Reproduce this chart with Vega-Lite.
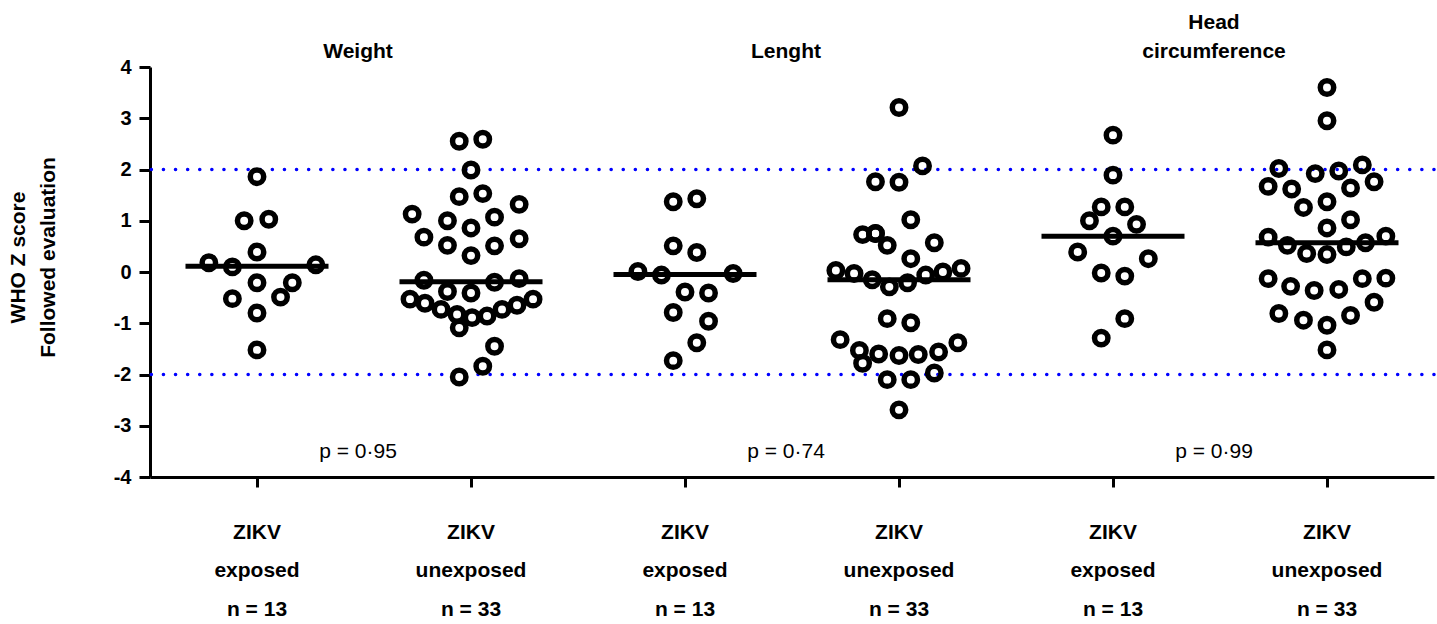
{
  "$schema": "https://vega.github.io/schema/vega-lite/v6.json",
  "width": 1284,
  "height": 410,
  "autosize": {"type": "none"},
  "padding": {"left": 150, "top": 67, "right": 3, "bottom": 147},
  "background": "white",
  "config": {
    "view": {"stroke": null},
    "font": "Liberation Sans",
    "axisY": {
      "domainColor": "black", "domainWidth": 3, "tickColor": "black", "tickWidth": 3, "tickSize": 11,
      "labelFont": "Liberation Sans", "labelFontSize": 20, "labelFontWeight": "bold", "labelColor": "black", "labelPadding": 8,
      "grid": false,
      "titleFont": "Liberation Sans", "titleFontSize": 21, "titleFontWeight": "bold", "titleColor": "black",
      "titleLineHeight": 30, "titleX": -143, "titleY": 190, "titleAngle": -90, "titleBaseline": "top", "titleAlign": "center"
    },
    "axisX": {
      "domainColor": "black", "domainWidth": 3, "tickColor": "black", "tickWidth": 3, "tickSize": 10,
      "labelFont": "Liberation Sans", "labelFontSize": 21, "labelFontWeight": "bold", "labelColor": "black",
      "labelPadding": 34, "labelLineHeight": 38.5, "labelAngle": 0, "grid": false
    }
  },
  "datasets": {
    "refs": [{"ref": 2}, {"ref": -2}],
    "medians": [
      {"slot": "Weight|ZIKV|exposed|n = 13", "median": 0.11},
      {"slot": "Weight|ZIKV|unexposed|n = 33", "median": -0.19},
      {"slot": "Lenght|ZIKV|exposed|n = 13", "median": -0.05},
      {"slot": "Lenght|ZIKV|unexposed|n = 33", "median": -0.15},
      {"slot": "Head circumference|ZIKV|exposed|n = 13", "median": 0.70},
      {"slot": "Head circumference|ZIKV|unexposed|n = 33", "median": 0.57}
    ],
    "panels": [
      {"measure": "Weight", "line1": "", "line2": "Weight", "p": "p = 0·95"},
      {"measure": "Lenght", "line1": "", "line2": "Lenght", "p": "p = 0·74"},
      {"measure": "Head circumference", "line1": "Head", "line2": "circumference", "p": "p = 0·99"}
    ],
    "points": [
      {"slot": "Weight|ZIKV|exposed|n = 13", "z": 1.86, "jitter": 0},
      {"slot": "Weight|ZIKV|exposed|n = 13", "z": 1.00, "jitter": -0.12},
      {"slot": "Weight|ZIKV|exposed|n = 13", "z": 1.03, "jitter": 0.11},
      {"slot": "Weight|ZIKV|exposed|n = 13", "z": 0.39, "jitter": 0},
      {"slot": "Weight|ZIKV|exposed|n = 13", "z": 0.18, "jitter": -0.45},
      {"slot": "Weight|ZIKV|exposed|n = 13", "z": 0.10, "jitter": -0.23},
      {"slot": "Weight|ZIKV|exposed|n = 13", "z": 0.14, "jitter": 0.55},
      {"slot": "Weight|ZIKV|exposed|n = 13", "z": -0.21, "jitter": 0},
      {"slot": "Weight|ZIKV|exposed|n = 13", "z": -0.21, "jitter": 0.33},
      {"slot": "Weight|ZIKV|exposed|n = 13", "z": -0.52, "jitter": -0.23},
      {"slot": "Weight|ZIKV|exposed|n = 13", "z": -0.49, "jitter": 0.22},
      {"slot": "Weight|ZIKV|exposed|n = 13", "z": -0.80, "jitter": 0},
      {"slot": "Weight|ZIKV|exposed|n = 13", "z": -1.52, "jitter": 0},

      {"slot": "Weight|ZIKV|unexposed|n = 33", "z": 2.55, "jitter": -0.11},
      {"slot": "Weight|ZIKV|unexposed|n = 33", "z": 2.59, "jitter": 0.11},
      {"slot": "Weight|ZIKV|unexposed|n = 33", "z": 1.99, "jitter": 0},
      {"slot": "Weight|ZIKV|unexposed|n = 33", "z": 1.47, "jitter": -0.11},
      {"slot": "Weight|ZIKV|unexposed|n = 33", "z": 1.53, "jitter": 0.11},
      {"slot": "Weight|ZIKV|unexposed|n = 33", "z": 1.32, "jitter": 0.45},
      {"slot": "Weight|ZIKV|unexposed|n = 33", "z": 1.13, "jitter": -0.55},
      {"slot": "Weight|ZIKV|unexposed|n = 33", "z": 1.00, "jitter": -0.22},
      {"slot": "Weight|ZIKV|unexposed|n = 33", "z": 1.07, "jitter": 0.22},
      {"slot": "Weight|ZIKV|unexposed|n = 33", "z": 0.86, "jitter": 0},
      {"slot": "Weight|ZIKV|unexposed|n = 33", "z": 0.68, "jitter": -0.44},
      {"slot": "Weight|ZIKV|unexposed|n = 33", "z": 0.65, "jitter": 0.45},
      {"slot": "Weight|ZIKV|unexposed|n = 33", "z": 0.52, "jitter": -0.22},
      {"slot": "Weight|ZIKV|unexposed|n = 33", "z": 0.51, "jitter": 0.22},
      {"slot": "Weight|ZIKV|unexposed|n = 33", "z": 0.32, "jitter": 0},
      {"slot": "Weight|ZIKV|unexposed|n = 33", "z": -0.16, "jitter": -0.44},
      {"slot": "Weight|ZIKV|unexposed|n = 33", "z": -0.20, "jitter": 0.22},
      {"slot": "Weight|ZIKV|unexposed|n = 33", "z": -0.13, "jitter": 0.45},
      {"slot": "Weight|ZIKV|unexposed|n = 33", "z": -0.38, "jitter": -0.22},
      {"slot": "Weight|ZIKV|unexposed|n = 33", "z": -0.41, "jitter": 0},
      {"slot": "Weight|ZIKV|unexposed|n = 33", "z": -0.53, "jitter": -0.57},
      {"slot": "Weight|ZIKV|unexposed|n = 33", "z": -0.53, "jitter": 0.58},
      {"slot": "Weight|ZIKV|unexposed|n = 33", "z": -0.61, "jitter": -0.43},
      {"slot": "Weight|ZIKV|unexposed|n = 33", "z": -0.65, "jitter": 0.43},
      {"slot": "Weight|ZIKV|unexposed|n = 33", "z": -0.73, "jitter": -0.28},
      {"slot": "Weight|ZIKV|unexposed|n = 33", "z": -0.73, "jitter": 0.29},
      {"slot": "Weight|ZIKV|unexposed|n = 33", "z": -0.83, "jitter": -0.13},
      {"slot": "Weight|ZIKV|unexposed|n = 33", "z": -0.89, "jitter": 0.01},
      {"slot": "Weight|ZIKV|unexposed|n = 33", "z": -0.86, "jitter": 0.15},
      {"slot": "Weight|ZIKV|unexposed|n = 33", "z": -1.09, "jitter": -0.11},
      {"slot": "Weight|ZIKV|unexposed|n = 33", "z": -1.45, "jitter": 0.22},
      {"slot": "Weight|ZIKV|unexposed|n = 33", "z": -1.84, "jitter": 0.11},
      {"slot": "Weight|ZIKV|unexposed|n = 33", "z": -2.05, "jitter": -0.11},

      {"slot": "Lenght|ZIKV|exposed|n = 13", "z": 1.37, "jitter": -0.11},
      {"slot": "Lenght|ZIKV|exposed|n = 13", "z": 1.43, "jitter": 0.11},
      {"slot": "Lenght|ZIKV|exposed|n = 13", "z": 0.51, "jitter": -0.11},
      {"slot": "Lenght|ZIKV|exposed|n = 13", "z": 0.38, "jitter": 0.11},
      {"slot": "Lenght|ZIKV|exposed|n = 13", "z": 0.01, "jitter": -0.44},
      {"slot": "Lenght|ZIKV|exposed|n = 13", "z": -0.06, "jitter": -0.22},
      {"slot": "Lenght|ZIKV|exposed|n = 13", "z": -0.03, "jitter": 0.45},
      {"slot": "Lenght|ZIKV|exposed|n = 13", "z": -0.39, "jitter": 0},
      {"slot": "Lenght|ZIKV|exposed|n = 13", "z": -0.41, "jitter": 0.22},
      {"slot": "Lenght|ZIKV|exposed|n = 13", "z": -0.79, "jitter": -0.11},
      {"slot": "Lenght|ZIKV|exposed|n = 13", "z": -0.96, "jitter": 0.22},
      {"slot": "Lenght|ZIKV|exposed|n = 13", "z": -1.38, "jitter": 0.11},
      {"slot": "Lenght|ZIKV|exposed|n = 13", "z": -1.73, "jitter": -0.11},

      {"slot": "Lenght|ZIKV|unexposed|n = 33", "z": 3.21, "jitter": 0},
      {"slot": "Lenght|ZIKV|unexposed|n = 33", "z": 2.07, "jitter": 0.22},
      {"slot": "Lenght|ZIKV|unexposed|n = 33", "z": 1.76, "jitter": -0.22},
      {"slot": "Lenght|ZIKV|unexposed|n = 33", "z": 1.75, "jitter": 0},
      {"slot": "Lenght|ZIKV|unexposed|n = 33", "z": 1.02, "jitter": 0.11},
      {"slot": "Lenght|ZIKV|unexposed|n = 33", "z": 0.73, "jitter": -0.34},
      {"slot": "Lenght|ZIKV|unexposed|n = 33", "z": 0.75, "jitter": -0.22},
      {"slot": "Lenght|ZIKV|unexposed|n = 33", "z": 0.75, "jitter": -0.22},
      {"slot": "Lenght|ZIKV|unexposed|n = 33", "z": 0.52, "jitter": -0.11},
      {"slot": "Lenght|ZIKV|unexposed|n = 33", "z": 0.57, "jitter": 0.33},
      {"slot": "Lenght|ZIKV|unexposed|n = 33", "z": 0.26, "jitter": 0.11},
      {"slot": "Lenght|ZIKV|unexposed|n = 33", "z": 0.03, "jitter": -0.59},
      {"slot": "Lenght|ZIKV|unexposed|n = 33", "z": -0.03, "jitter": -0.42},
      {"slot": "Lenght|ZIKV|unexposed|n = 33", "z": -0.15, "jitter": -0.25},
      {"slot": "Lenght|ZIKV|unexposed|n = 33", "z": -0.29, "jitter": -0.09},
      {"slot": "Lenght|ZIKV|unexposed|n = 33", "z": -0.21, "jitter": 0.08},
      {"slot": "Lenght|ZIKV|unexposed|n = 33", "z": -0.06, "jitter": 0.25},
      {"slot": "Lenght|ZIKV|unexposed|n = 33", "z": 0.00, "jitter": 0.41},
      {"slot": "Lenght|ZIKV|unexposed|n = 33", "z": 0.07, "jitter": 0.58},
      {"slot": "Lenght|ZIKV|unexposed|n = 33", "z": -0.91, "jitter": -0.11},
      {"slot": "Lenght|ZIKV|unexposed|n = 33", "z": -0.99, "jitter": 0.11},
      {"slot": "Lenght|ZIKV|unexposed|n = 33", "z": -1.32, "jitter": -0.55},
      {"slot": "Lenght|ZIKV|unexposed|n = 33", "z": -1.53, "jitter": -0.37},
      {"slot": "Lenght|ZIKV|unexposed|n = 33", "z": -1.60, "jitter": -0.19},
      {"slot": "Lenght|ZIKV|unexposed|n = 33", "z": -1.63, "jitter": 0},
      {"slot": "Lenght|ZIKV|unexposed|n = 33", "z": -1.61, "jitter": 0.18},
      {"slot": "Lenght|ZIKV|unexposed|n = 33", "z": -1.56, "jitter": 0.37},
      {"slot": "Lenght|ZIKV|unexposed|n = 33", "z": -1.38, "jitter": 0.55},
      {"slot": "Lenght|ZIKV|unexposed|n = 33", "z": -1.78, "jitter": -0.34},
      {"slot": "Lenght|ZIKV|unexposed|n = 33", "z": -1.97, "jitter": 0.33},
      {"slot": "Lenght|ZIKV|unexposed|n = 33", "z": -2.10, "jitter": -0.11},
      {"slot": "Lenght|ZIKV|unexposed|n = 33", "z": -2.10, "jitter": 0.11},
      {"slot": "Lenght|ZIKV|unexposed|n = 33", "z": -2.69, "jitter": 0},

      {"slot": "Head circumference|ZIKV|exposed|n = 13", "z": 2.67, "jitter": 0},
      {"slot": "Head circumference|ZIKV|exposed|n = 13", "z": 1.89, "jitter": 0},
      {"slot": "Head circumference|ZIKV|exposed|n = 13", "z": 1.27, "jitter": -0.11},
      {"slot": "Head circumference|ZIKV|exposed|n = 13", "z": 1.27, "jitter": 0.11},
      {"slot": "Head circumference|ZIKV|exposed|n = 13", "z": 1.00, "jitter": -0.22},
      {"slot": "Head circumference|ZIKV|exposed|n = 13", "z": 0.93, "jitter": 0.22},
      {"slot": "Head circumference|ZIKV|exposed|n = 13", "z": 0.70, "jitter": 0},
      {"slot": "Head circumference|ZIKV|exposed|n = 13", "z": 0.39, "jitter": -0.33},
      {"slot": "Head circumference|ZIKV|exposed|n = 13", "z": 0.26, "jitter": 0.33},
      {"slot": "Head circumference|ZIKV|exposed|n = 13", "z": -0.02, "jitter": -0.11},
      {"slot": "Head circumference|ZIKV|exposed|n = 13", "z": -0.08, "jitter": 0.11},
      {"slot": "Head circumference|ZIKV|exposed|n = 13", "z": -0.91, "jitter": 0.11},
      {"slot": "Head circumference|ZIKV|exposed|n = 13", "z": -1.29, "jitter": -0.11},

      {"slot": "Head circumference|ZIKV|unexposed|n = 33", "z": 3.60, "jitter": 0},
      {"slot": "Head circumference|ZIKV|unexposed|n = 33", "z": 2.95, "jitter": 0},
      {"slot": "Head circumference|ZIKV|unexposed|n = 33", "z": 2.02, "jitter": -0.45},
      {"slot": "Head circumference|ZIKV|unexposed|n = 33", "z": 1.92, "jitter": -0.11},
      {"slot": "Head circumference|ZIKV|unexposed|n = 33", "z": 1.97, "jitter": 0.11},
      {"slot": "Head circumference|ZIKV|unexposed|n = 33", "z": 2.09, "jitter": 0.33},
      {"slot": "Head circumference|ZIKV|unexposed|n = 33", "z": 1.67, "jitter": -0.55},
      {"slot": "Head circumference|ZIKV|unexposed|n = 33", "z": 1.62, "jitter": -0.33},
      {"slot": "Head circumference|ZIKV|unexposed|n = 33", "z": 1.64, "jitter": 0.22},
      {"slot": "Head circumference|ZIKV|unexposed|n = 33", "z": 1.76, "jitter": 0.44},
      {"slot": "Head circumference|ZIKV|unexposed|n = 33", "z": 1.26, "jitter": -0.22},
      {"slot": "Head circumference|ZIKV|unexposed|n = 33", "z": 1.37, "jitter": 0},
      {"slot": "Head circumference|ZIKV|unexposed|n = 33", "z": 1.02, "jitter": 0.22},
      {"slot": "Head circumference|ZIKV|unexposed|n = 33", "z": 0.86, "jitter": 0},
      {"slot": "Head circumference|ZIKV|unexposed|n = 33", "z": 0.68, "jitter": -0.55},
      {"slot": "Head circumference|ZIKV|unexposed|n = 33", "z": 0.70, "jitter": 0.55},
      {"slot": "Head circumference|ZIKV|unexposed|n = 33", "z": 0.52, "jitter": -0.37},
      {"slot": "Head circumference|ZIKV|unexposed|n = 33", "z": 0.36, "jitter": -0.19},
      {"slot": "Head circumference|ZIKV|unexposed|n = 33", "z": 0.34, "jitter": 0},
      {"slot": "Head circumference|ZIKV|unexposed|n = 33", "z": 0.49, "jitter": 0.18},
      {"slot": "Head circumference|ZIKV|unexposed|n = 33", "z": 0.57, "jitter": 0.36},
      {"slot": "Head circumference|ZIKV|unexposed|n = 33", "z": -0.13, "jitter": -0.55},
      {"slot": "Head circumference|ZIKV|unexposed|n = 33", "z": -0.28, "jitter": -0.34},
      {"slot": "Head circumference|ZIKV|unexposed|n = 33", "z": -0.36, "jitter": -0.12},
      {"slot": "Head circumference|ZIKV|unexposed|n = 33", "z": -0.34, "jitter": 0.11},
      {"slot": "Head circumference|ZIKV|unexposed|n = 33", "z": -0.13, "jitter": 0.33},
      {"slot": "Head circumference|ZIKV|unexposed|n = 33", "z": -0.12, "jitter": 0.55},
      {"slot": "Head circumference|ZIKV|unexposed|n = 33", "z": -0.59, "jitter": 0.44},
      {"slot": "Head circumference|ZIKV|unexposed|n = 33", "z": -0.81, "jitter": -0.45},
      {"slot": "Head circumference|ZIKV|unexposed|n = 33", "z": -0.94, "jitter": -0.22},
      {"slot": "Head circumference|ZIKV|unexposed|n = 33", "z": -1.04, "jitter": 0},
      {"slot": "Head circumference|ZIKV|unexposed|n = 33", "z": -0.85, "jitter": 0.22},
      {"slot": "Head circumference|ZIKV|unexposed|n = 33", "z": -1.52, "jitter": 0}
    ]
  },
  "layer": [
    {
      "data": {"name": "refs"},
      "mark": {"type": "rule", "color": "#0000ff", "strokeWidth": 3.5, "strokeDash": [0.1, 12], "strokeCap": "round"},
      "encoding": {
        "y": {"field": "ref", "type": "quantitative", "title": ["WHO Z score", "Followed evaluation"],
              "scale": {"domain": [-4, 4], "nice": false, "zero": false},
              "axis": {"values": [-4, -3, -2, -1, 0, 1, 2, 3, 4], "labelExpr": "'' + datum.value"}}
      }
    },
    {
      "encoding": {
        "x": {"field": "slot", "type": "nominal", "title": null,
              "scale": {"domain": [
                "Weight|ZIKV|exposed|n = 13", "Weight|ZIKV|unexposed|n = 33",
                "Lenght|ZIKV|exposed|n = 13", "Lenght|ZIKV|unexposed|n = 33",
                "Head circumference|ZIKV|exposed|n = 13", "Head circumference|ZIKV|unexposed|n = 33"],
                "paddingInner": 0, "paddingOuter": 0},
              "axis": {"labelExpr": "slice(split(datum.value, '|'), 1)"}}
      },
      "layer": [
        {
          "data": {"name": "points"},
          "mark": {"type": "point", "shape": "circle", "filled": false, "stroke": "black", "strokeWidth": 5.5, "size": 180, "opacity": 1},
          "encoding": {
            "xOffset": {"field": "jitter", "type": "quantitative", "scale": {"domain": [-1, 1], "range": [0, 214]}},
            "y": {"field": "z", "type": "quantitative", "title": ["WHO Z score", "Followed evaluation"], "scale": {"domain": [-4, 4], "nice": false, "zero": false}}
          }
        },
        {
          "data": {"name": "medians"},
          "mark": {"type": "tick", "color": "black", "thickness": 5, "size": 143, "orient": "horizontal", "opacity": 1},
          "encoding": {
            "y": {"field": "median", "type": "quantitative", "title": ["WHO Z score", "Followed evaluation"], "scale": {"domain": [-4, 4], "nice": false, "zero": false}}
          }
        }
      ]
    },
    {
      "data": {"name": "panels"},
      "encoding": {
        "x": {"field": "measure", "type": "nominal", "axis": null,
              "scale": {"domain": ["Weight", "Lenght", "Head circumference"], "paddingInner": 0, "paddingOuter": 0}}
      },
      "layer": [
        {
          "mark": {"type": "text", "font": "Liberation Sans", "fontSize": 21, "fontWeight": "bold", "color": "black",
                   "baseline": "alphabetic", "dx": -6, "dy": -38},
          "encoding": {"y": {"datum": 4, "type": "quantitative"}, "text": {"field": "line1"}}
        },
        {
          "mark": {"type": "text", "font": "Liberation Sans", "fontSize": 21, "fontWeight": "bold", "color": "black",
                   "baseline": "alphabetic", "dx": -6, "dy": -9},
          "encoding": {"y": {"datum": 4, "type": "quantitative"}, "text": {"field": "line2"}}
        },
        {
          "mark": {"type": "text", "font": "Liberation Sans", "fontSize": 21, "color": "black", "baseline": "middle", "dx": -6},
          "encoding": {"y": {"datum": -3.52, "type": "quantitative"}, "text": {"field": "p"}}
        }
      ]
    }
  ],
  "resolve": {"scale": {"x": "independent"}, "axis": {"x": "independent"}}
}
